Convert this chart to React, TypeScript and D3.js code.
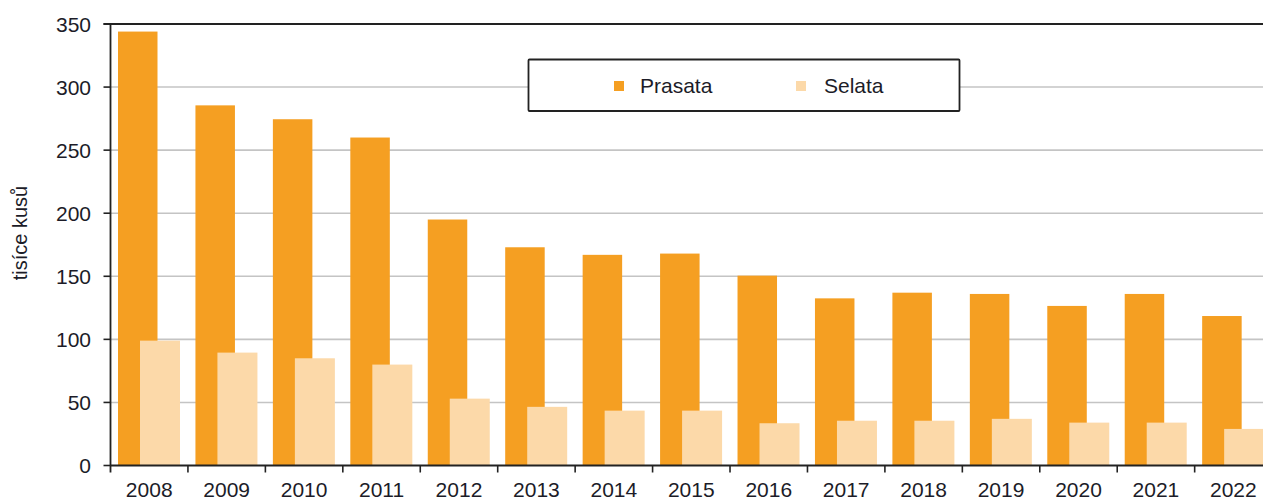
import React from "react";
import * as d3 from "d3";

const years = ["2008","2009","2010","2011","2012","2013","2014","2015","2016","2017","2018","2019","2020","2021","2022"];
const prasata = [344, 285.5, 274.5, 260, 195, 173, 167, 168, 150.5, 132.5, 137, 136, 126.5, 136, 118.5];
const selata = [99, 89.5, 85, 80, 53, 46.5, 43.5, 43.5, 33.5, 35.5, 35.5, 37, 34, 34, 29];
const yTicks = [0, 50, 100, 150, 200, 250, 300, 350];
const seriesNames = ["Prasata", "Selata"];
const colors = ["#F59F22", "#FCD9A9"];

export default function App() {
  const W = 1263, H = 500;
  const left = 110.5, top = 24, bottom = 465.5;
  const band = 77.44;
  const x = d3.scaleBand<string>().domain(years).range([left, left + band * years.length]).padding(0);
  const y = d3.scaleLinear().domain([0, 350]).range([bottom, top]);
  const font = "'Liberation Sans', Arial, sans-serif";
  const textColor = "#1c1c28";
  return (
    <svg width={W} height={H} style={{ position: "absolute", left: 0, top: 0, background: "#fff" }} fontFamily={font}>
      {yTicks.filter(t => t > 0 && t < 350).map(t => (
        <line key={"g" + t} x1={left} x2={W} y1={y(t)} y2={y(t)} stroke="#c4c4c4" strokeWidth={1.6} />
      ))}
      {years.map((yr, i) => (
        <rect key={"p" + yr} x={(x(yr) as number) + 7.5} width={39.5} y={y(prasata[i])} height={y(0) - y(prasata[i])} fill={colors[0]} />
      ))}
      {years.map((yr, i) => (
        <rect key={"s" + yr} x={(x(yr) as number) + 29.5} width={40} y={y(selata[i])} height={y(0) - y(selata[i])} fill={colors[1]} />
      ))}
      <line x1={left - 7} x2={W} y1={top} y2={top} stroke="#222" strokeWidth={1.8} />
      <line x1={left} x2={left} y1={top} y2={bottom + 7} stroke="#222" strokeWidth={1.8} />
      {yTicks.map(t => (
        <g key={"yt" + t}>
          <line x1={left - 7} x2={left} y1={y(t)} y2={y(t)} stroke="#222" strokeWidth={1.6} />
          <text x={91} y={y(t)} dy="0.36em" textAnchor="end" fontSize={21} fill={textColor}>{t}</text>
        </g>
      ))}
      <line x1={left} x2={W} y1={bottom} y2={bottom} stroke="#222" strokeWidth={1.8} />
      {years.map((yr) => (
        <line key={"xt" + yr} x1={(x(yr) as number) + band} x2={(x(yr) as number) + band} y1={bottom} y2={bottom + 7} stroke="#222" strokeWidth={1.6} />
      ))}
      {years.map((yr) => (
        <text key={"xl" + yr} x={(x(yr) as number) + band / 2} y={497} textAnchor="middle" fontSize={21} fill={textColor}>{yr}</text>
      ))}
      <text transform={`translate(27,233) rotate(-90)`} textAnchor="middle" fontSize={20} fill={textColor}>tisíce kusů</text>
      <rect x={528.5} y={59.5} width={431} height={51.5} fill="#fff" stroke="#222" strokeWidth={1.8} rx={1} />
      {seriesNames.map((n, i) => (
        <g key={"lg" + n}>
          <rect x={614 + i * 182} y={81} width={10} height={10} fill={colors[i]} />
          <text x={640 + i * 184} y={93} fontSize={21} fill={textColor}>{n}</text>
        </g>
      ))}
    </svg>
  );
}
